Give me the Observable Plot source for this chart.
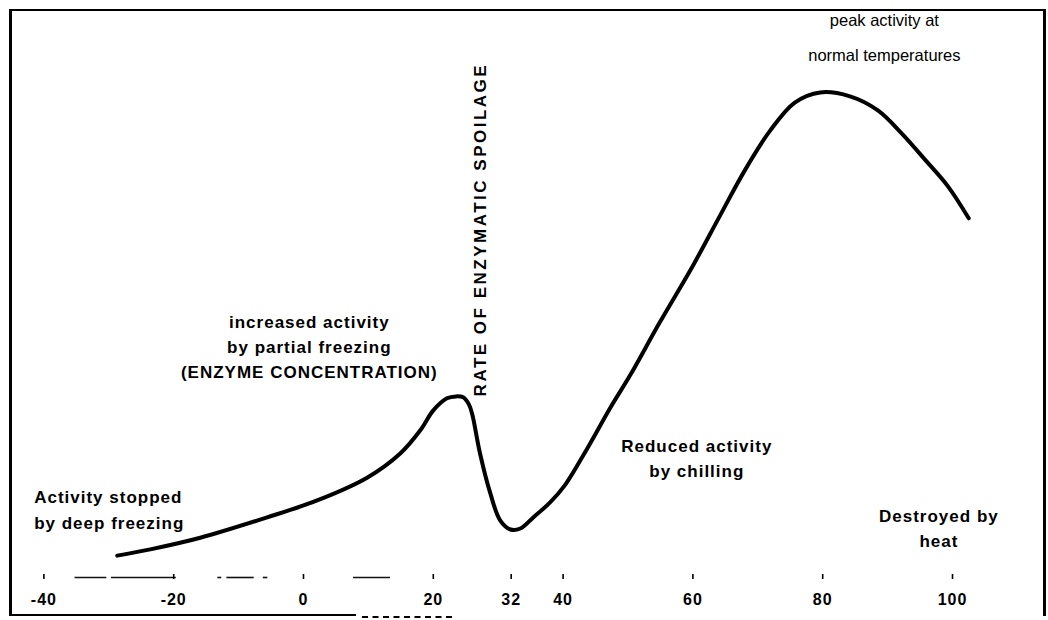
<!DOCTYPE html>
<html>
<head>
<meta charset="utf-8">
<script src="https://cdn.jsdelivr.net/npm/d3@7"></script>
<script src="https://cdn.jsdelivr.net/npm/@observablehq/plot@0.6"></script>
<style>
  html, body { margin: 0; padding: 0; background: #fff; }
  body { width: 1048px; height: 620px; position: relative; overflow: hidden; }
  #chart { position: absolute; left: 0; top: 0; }
  #chart svg { font-family: "Liberation Sans", Arial, Helvetica, sans-serif; }
  .frame { position: absolute; left: 9px; top: 9px; width: 1031px; height: 605px;
           border-left: 3px solid #000; border-top: 2px solid #000; border-right: 3px solid #000;
           pointer-events: none; }
  .bottom { position: absolute; left: 9px; top: 614px; width: 347px; height: 0;
            border-top: 2px solid #000; pointer-events: none; }
  .bottom2 { position: absolute; left: 362px; top: 616px; width: 90px; height: 0;
            border-top: 2px dashed #000; pointer-events: none; }
</style>
</head>
<body>
<div id="chart"></div>
<div class="frame"></div>
<div class="bottom"></div>
<div class="bottom2"></div>
<script>
// Temperature (°F) along the curve and relative rate of enzymatic spoilage
const temps = [-28.7, -23.6, -15.9, -5.6, 2.1, 9.8, 14.9, 18.0, 20.0, 22.1, 23.5, 24.6, 25.5, 26.0,
               27.2, 28.8, 30.3, 31.9, 33.4, 35.4, 38.0, 40.2, 43.7, 47.3, 50.3, 54.9, 60.0, 64.2, 68.0,
               71.9, 75.7, 79.6, 84.2, 88.5, 92.2, 95.9, 99.3, 102.5];
const rates = [3.9, 5.2, 7.6, 11.8, 15.3, 20.0, 25.0, 29.8, 33.9, 36.4, 36.8, 36.6, 35.1, 33.1,
               25.0, 16.7, 11.2, 9.3, 9.5, 11.8, 14.9, 18.3, 26.0, 34.5, 41.1, 52.1, 63.8, 74.2, 83.5,
               91.7, 97.5, 99.6, 98.8, 95.9, 91.1, 85.5, 80.2, 73.6];

// Axis tick labels
const tickValues = [-40, -20, 0, 20, 32, 40, 60, 80, 100];
// Broken fragments of the printed axis line (°F)
const axisFrom = [-35.2, -29.6, -13.2, -11.8, -6.2, 7.7];
const axisTo   = [-30.3, -19.6, -12.6, -7.6, -5.5, 13.4];

// Annotations
const noteTexts = [
  "Activity stopped\nby deep freezing",
  "increased activity\nby partial freezing\n(ENZYME CONCENTRATION)",
  "Reduced activity\nby chilling",
  "Destroyed by\nheat"
];
const noteTemps = [-41.5, 0.9, 60.6, 97.9];
const noteRates = [13.8, 47.5, 24.4, 9.9];
const peakNote = "peak activity at\nnormal temperatures";
const peakTemp = 89.5;
const peakRate = 112.0;
const axisTitle = "RATE OF ENZYMATIC SPOILAGE";
const axisTitleTemp = 27.3;
const axisTitleRate = 36.8;

const curve = temps.map((t, i) => ({temp: t, rate: rates[i]}));
const axisSegs = axisFrom.map((a, i) => ({a, b: axisTo[i]}));
const notes = noteTexts.map((s, i) => ({text: s, temp: noteTemps[i], rate: noteRates[i]}));

const chart = Plot.plot({
  width: 1048,
  height: 620,
  marginLeft: 43.4,
  marginRight: 96,
  marginTop: 90,
  marginBottom: 46,
  x: {domain: [-40, 100]},
  y: {domain: [0, 100], axis: null},
  style: {background: "transparent", color: "#000"},
  marks: [
    Plot.ruleY(axisSegs, {x1: "a", x2: "b", y: 0, dy: 3, stroke: "#111", strokeWidth: 1.6}),
    Plot.axisX({ticks: tickValues, tickSize: 5, tickPadding: 14, tickFormat: d => String(d),
                fontSize: 16, fontWeight: "bold", strokeWidth: 1.6, label: null}),
    Plot.line(curve, {x: "temp", y: "rate", curve: "catmull-rom", stroke: "#000",
                      strokeWidth: 4, strokeLinecap: "round", strokeLinejoin: "round"}),
    Plot.text(notes.slice(0, 1), {x: "temp", y: "rate", text: "text", textAnchor: "start",
                      lineAnchor: "middle", lineHeight: 1.5, fontSize: 17, fontWeight: "bold", fill: "#000"}),
    Plot.text(notes.slice(1), {x: "temp", y: "rate", text: "text", textAnchor: "middle",
                      lineAnchor: "middle", lineHeight: 1.48, fontSize: 17, fontWeight: "bold", fill: "#000"}),
    Plot.text([peakNote], {x: () => peakTemp, y: () => peakRate, text: d => d, textAnchor: "middle",
                      lineAnchor: "middle", lineHeight: 2.1, fontSize: 16.5, fill: "#000"}),
    Plot.text([axisTitle], {x: () => axisTitleTemp, y: () => axisTitleRate, text: d => d, rotate: -90,
                      textAnchor: "start", lineAnchor: "middle", fontSize: 17, fontWeight: "bold", fill: "#000"})
  ]
});
document.getElementById("chart").appendChild(chart);
// letter spacing for the bold scanned-looking lettering
chart.querySelectorAll("text").forEach(t => {
  const bold = t.getAttribute("font-weight") === "bold" ||
    (t.parentNode && t.parentNode.getAttribute && t.parentNode.getAttribute("font-weight") === "bold");
  if (bold) t.style.letterSpacing = t.textContent === axisTitle ? "2.5px" : "1px";
});
</script>
</body>
</html>
